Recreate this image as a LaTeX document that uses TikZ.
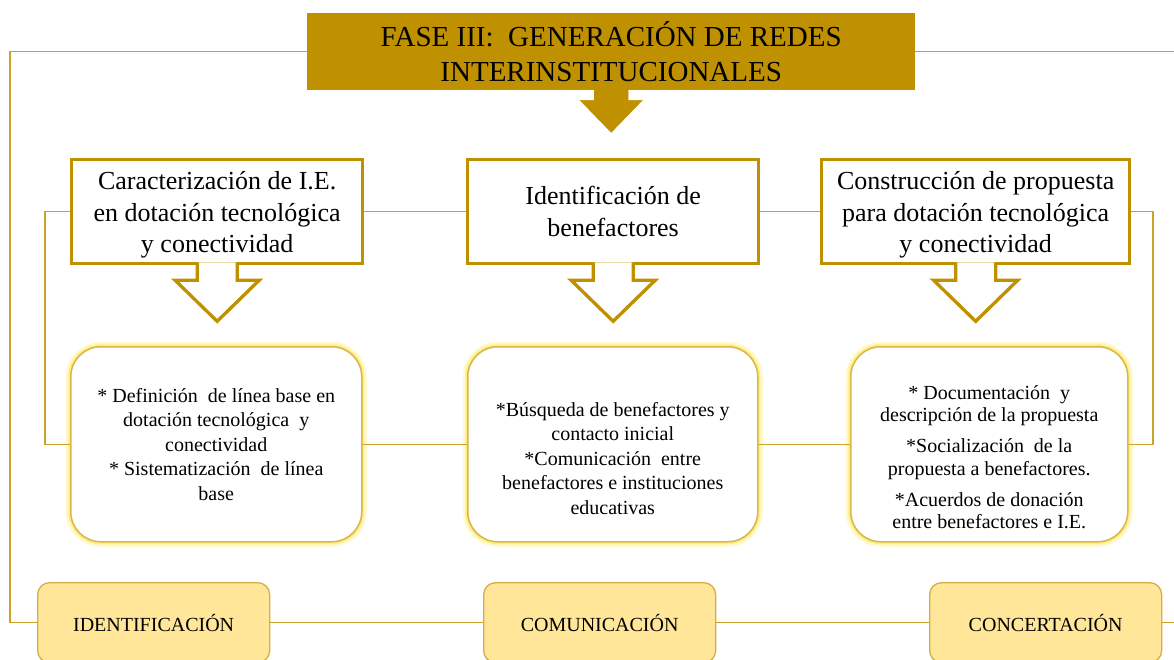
\documentclass[tikz,border=0pt]{standalone}
\usepackage{fontspec}
\setmainfont{Liberation Serif}
\definecolor{gold}{HTML}{BF9000}
\definecolor{lgold}{HTML}{C9A227}
\definecolor{rborder}{HTML}{D8B64A}
\definecolor{glow}{HTML}{FFEE80}
\definecolor{glowout}{HTML}{FFF8D0}
\definecolor{bfill}{HTML}{FFE699}
\definecolor{bborder}{HTML}{D4AE45}
\newcommand\harrowat[1]{%
  \filldraw[harrow] ([shift={(-20,-3)}]#1.south) -- ([shift={(-20,15)}]#1.south)
    -- ([shift={(-42,15)}]#1.south) -- ([shift={(0,56)}]#1.south)
    -- ([shift={(42,15)}]#1.south) -- ([shift={(20,15)}]#1.south)
    -- ([shift={(20,-3)}]#1.south);}
\begin{document}
\begin{tikzpicture}[x=1pt,y=-1pt,
  titlebox/.style={fill=gold, minimum width=608, minimum height=77, anchor=north west,
    align=center, inner sep=0, font=\fontsize{29}{35}\selectfont},
  topbox/.style={draw=gold, line width=3.3, fill=white, minimum width=291, minimum height=104,
    anchor=north west, align=center, inner sep=0, font=\fontsize{26}{31.5}\selectfont},
  harrow/.style={draw=gold, line width=3.3, fill=white},
  rbox/.style={draw=rborder, line width=1.5, fill=white, rounded corners=30,
    minimum width=291, minimum height=195, anchor=north west, align=center, inner sep=0,
    font=\fontsize{20}{24.5}\selectfont,
    preaction={draw=glowout, line width=10},
    preaction={draw=glow, line width=5}},
  bbox/.style={draw=bborder, line width=1.3, fill=bfill, rounded corners=12,
    minimum width=232, minimum height=80, anchor=north west, align=center, inner sep=0,
    font=\fontsize{20}{24}\selectfont},
  conn/.style={draw=lgold, line width=1.3}]
\useasboundingbox (0,0) rectangle (1174,660);

% title
\node[titlebox] (title) at (307,13) {FASE III:\ \ GENERACIÓN DE REDES\\INTERINSTITUCIONALES};
\filldraw[fill=gold, draw=gold] ([shift={(-17,-1)}]title.south) -- ([shift={(-17,10)}]title.south)
  -- ([shift={(-31,10)}]title.south) -- ([shift={(0,42)}]title.south)
  -- ([shift={(31,10)}]title.south) -- ([shift={(17,10)}]title.south)
  -- ([shift={(17,-1)}]title.south) -- cycle;

% top boxes
\node[topbox] (T1) at (70,158) {\rule{0pt}{25pt}Caracterización de I.E.\\en dotación tecnológica\\y conectividad};
\node[topbox] (T2) at (466,158) {Identificación de\\benefactores};
\node[topbox, minimum width=308] (T3) at (820,158) {\rule{0pt}{25pt}Construcción de propuesta\\para dotación tecnológica\\y conectividad};
\harrowat{T1}
\harrowat{T2}
\harrowat{T3}

% rounded boxes
\node[rbox] (R1) at (70,346) {* Definición\ \ de línea base en\\dotación tecnológica\ \ y\\conectividad\\* Sistematización\ \ de línea\\base};
\node[rbox, minimum width=290] (R2) at (467,346) {\rule{0pt}{42pt}*Búsqueda de benefactores y\\contacto inicial\\*Comunicación\ \ entre\\benefactores e instituciones\\educativas};
\node[rbox, minimum width=277, font=\fontsize{20}{22.5}\selectfont] (R3) at (850,346) {\rule{0pt}{40pt}* Documentación\ \ y\\descripción de la propuesta\\[8.5pt]*Socialización\ \ de la\\propuesta a benefactores.\\[8.5pt]*Acuerdos de donación\\entre benefactores e I.E.};

% bottom boxes
\node[bbox] (B1) at (37,582) {IDENTIFICACIÓN};
\node[bbox] (B2) at (483,582) {COMUNICACIÓN};
\node[bbox] (B3) at (929,582) {CONCERTACIÓN};

% connectors
\coordinate (oL) at (10,0);
\coordinate (oR) at (1174,0);
\coordinate (cL) at (45,0);
\coordinate (cR) at (1153,0);
\draw[conn] (title.west) -- (title.west -| oL) |- (B1.west);
\draw[conn] (title.east) -- (title.east -| oR);
\draw[conn] (T1.east) -- (T2.west);
\draw[conn] (T2.east) -- (T3.west);
\draw[conn] (T1.west) -- (T1.west -| cL) |- (R1.west);
\draw[conn] (T3.east) -- (T3.east -| cR) |- (R3.east);
\draw[conn] (R1.east) -- (R2.west);
\draw[conn] (R2.east) -- (R3.west);
\draw[conn] (B1.east) -- (B2.west);
\draw[conn] (B2.east) -- (B3.west);
\draw[conn] (B3.east) -- (B3.east -| oR);
\end{tikzpicture}
\end{document}
